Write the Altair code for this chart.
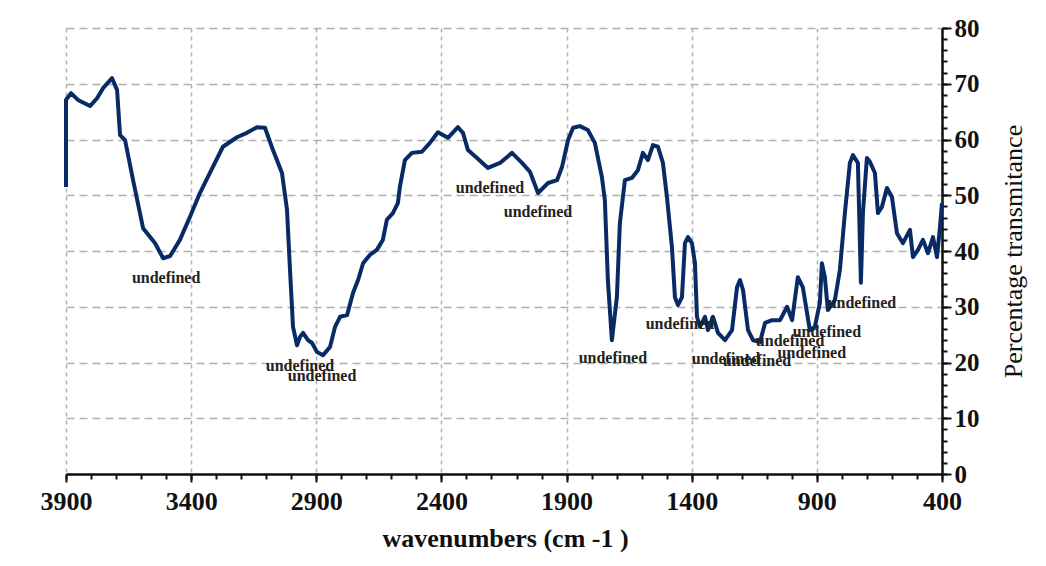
import altair as alt
import pandas as pd

# Spectrum trace (wavenumber, % transmittance)
wavenumber = [3900, 3900, 3880, 3852, 3804, 3776, 3752, 3716, 3696, 3684, 3664, 3632, 3592, 3564, 3544, 3512,
              3484, 3445, 3405, 3365, 3325, 3273, 3217, 3177, 3137, 3105, 3073, 3037, 3017, 3005, 2993, 2977,
              2965, 2953, 2933, 2917, 2897, 2873, 2845, 2825, 2805, 2777, 2753, 2733, 2713, 2686, 2658, 2634,
              2618, 2594, 2574, 2566, 2546, 2518, 2478, 2446, 2414, 2374, 2334, 2314, 2294, 2258, 2214, 2166,
              2118, 2078, 2046, 2014, 1974, 1938, 1918, 1894, 1874, 1847, 1815, 1787, 1759, 1747, 1735, 1719,
              1699, 1687, 1667, 1639, 1615, 1595, 1575, 1555, 1535, 1515, 1499, 1479, 1467, 1455, 1439, 1427,
              1415, 1399, 1387, 1379, 1367, 1347, 1335, 1315, 1295, 1267, 1239, 1219, 1207, 1195, 1175, 1155,
              1127, 1107, 1079, 1047, 1019, 999, 976, 956, 928, 908, 888, 880, 868, 856, 828, 808, 788, 768,
              756, 736, 724, 716, 700, 688, 668, 656, 640, 620, 600, 580, 556, 528, 516, 496, 476, 456, 436,
              420, 408, 400]
transmittance = [51.5, 67.1, 68.3, 67.1, 66.0, 67.4, 69.2, 71.0, 68.9, 60.8, 59.9, 52.7, 44.1, 42.5, 41.4, 38.7,
                 39.1, 42.0, 46.1, 50.4, 54.0, 58.7, 60.4, 61.2, 62.2, 62.1, 58.1, 54.0, 47.4, 36.6, 26.4, 23.1,
                 24.6, 25.3, 24.0, 23.5, 21.9, 21.3, 22.8, 26.4, 28.2, 28.5, 32.5, 34.8, 37.8, 39.3, 40.2, 42.0,
                 45.6, 46.8, 48.6, 51.5, 56.3, 57.6, 57.8, 59.4, 61.3, 60.3, 62.2, 61.2, 58.1, 56.7, 54.9, 55.8,
                 57.6, 55.8, 54.2, 50.4, 52.2, 52.7, 55.1, 59.9, 62.1, 62.4, 61.7, 59.4, 53.3, 49.1, 34.8, 24.0,
                 31.7, 45.0, 52.7, 53.1, 54.5, 57.6, 56.3, 59.0, 58.7, 55.8, 49.7, 40.7, 31.7, 30.3, 31.7, 41.4,
                 42.5, 41.4, 37.8, 28.2, 26.4, 28.2, 25.8, 28.2, 25.3, 24.0, 25.8, 33.5, 34.8, 33.0, 25.8, 24.0,
                 23.7, 27.1, 27.6, 27.6, 30.0, 27.6, 35.3, 33.5, 25.8, 26.4, 30.7, 37.8, 35.3, 29.4, 31.2, 36.6,
                 46.8, 55.8, 57.2, 55.8, 34.3, 46.8, 56.7, 56.0, 54.0, 46.8, 47.9, 51.3, 49.7, 43.2, 41.4, 43.8,
                 38.9, 40.2, 42.0, 39.6, 42.5, 38.9, 44.3, 48.6]

# Peak labels
label_wn = [3500, 2965, 2877, 2206, 2014, 1715, 1447, 1263, 1139, 1007, 920, 860, 720]
label_t = [35.2, 19.4, 17.6, 51.3, 47.0, 20.8, 26.9, 20.6, 20.3, 23.9, 21.7, 25.5, 30.7]
label_text = ["undefined"] * len(label_wn)

x_ticks = [3900, 3400, 2900, 2400, 1900, 1400, 900, 400]
y_ticks = [0, 10, 20, 30, 40, 50, 60, 70, 80]
x_minor = list(range(400, 3901, 100))
y_minor = list(range(0, 81, 2))

df = pd.DataFrame({"w": wavenumber, "v": transmittance, "i": range(len(wavenumber))})
labels = pd.DataFrame({"w": label_wn, "v": label_t, "t": label_text})

FONT = "Liberation Serif"
xs = alt.Scale(domain=[400, 3900], reverse=True, nice=False, zero=False)
ys = alt.Scale(domain=[0, 80], nice=False, zero=False)

x_axis = alt.Axis(
    values=x_ticks, format="d", orient="bottom",
    title="wavenumbers (cm -1 )", titleFont=FONT, titleFontSize=26, titleFontWeight="bold",
    titleColor="#111", titleX=439, titleY=64, titleBaseline="middle", titleAnchor="start", titleAlign="center",
    labelFont=FONT, labelFontSize=26, labelFontWeight="bold", labelColor="#111",
    labelFlush=False, labelOverlap=False, labelPadding=6,
    tickSize=8, tickWidth=2, tickColor="#111",
    domainColor="#111", domainWidth=2.5,
    grid=True, gridColor="#b0b0b0", gridWidth=1.5, gridDash=[4, 4],
)
y_axis = alt.Axis(
    values=y_ticks, format="d", orient="right",
    title="Percentage transmitance", titleFont=FONT, titleFontSize=26, titleFontWeight="normal",
    titleColor="#111", titleAngle=270, titleX=71, titleY=223, titleBaseline="middle", titleAlign="center",
    labelFont=FONT, labelFontSize=25, labelFontWeight="bold", labelColor="#111",
    labelFlush=False, labelOverlap=False, labelPadding=3,
    tickSize=9, tickWidth=2, tickColor="#111",
    domainColor="#111", domainWidth=2.5,
    grid=True, gridColor="#b0b0b0", gridWidth=1.5, gridDash=[8, 5],
)
x_axis_minor = alt.Axis(values=x_minor, orient="bottom", labels=False, grid=False, domain=False,
                        tickSize=5, tickWidth=2, tickColor="#111", title=None)
y_axis_minor = alt.Axis(values=y_minor, orient="right", labels=False, grid=False, domain=False,
                        tickSize=5, tickWidth=2, tickColor="#111", title=None)

line = alt.Chart(df).mark_line(color="#082b66", strokeWidth=4, strokeJoin="round").encode(
    x=alt.X("w:Q", scale=xs, axis=x_axis),
    y=alt.Y("v:Q", scale=ys, axis=y_axis),
    order="i:Q",
)
text = alt.Chart(labels).mark_text(font=FONT, fontSize=16, fontWeight="bold", color="#222",
                                    align="center", baseline="middle").encode(
    x=alt.X("w:Q", scale=xs, axis=x_axis_minor),
    y=alt.Y("v:Q", scale=ys, axis=y_axis_minor),
    text="t:N",
)

chart = alt.layer(line, text).resolve_axis(x="independent", y="independent").properties(
    width=876, height=446,
    padding={"left": 58, "top": 20, "right": 90, "bottom": 80},
    autosize="none",
    background="white",
).configure_view(stroke=None)

chart.save("out.html", embed_options={"renderer": "svg", "actions": False})
